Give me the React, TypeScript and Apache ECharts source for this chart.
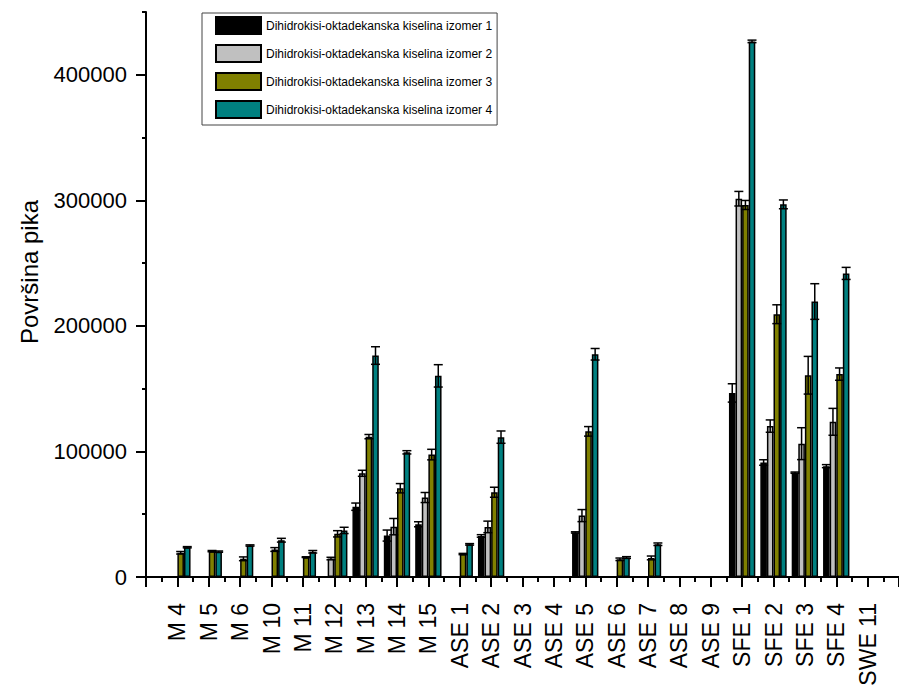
import React, { useEffect, useRef } from 'react';
import * as echarts from 'echarts';

const categories = ['M 4', 'M 5', 'M 6', 'M 10', 'M 11', 'M 12', 'M 13', 'M 14', 'M 15', 'ASE 1', 'ASE 2', 'ASE 3', 'ASE 4', 'ASE 5', 'ASE 6', 'ASE 7', 'ASE 8', 'ASE 9', 'SFE 1', 'SFE 2', 'SFE 3', 'SFE 4', 'SWE 11'];

const seriesNames = [
  'Dihidrokisi-oktadekanska kiselina izomer 1',
  'Dihidrokisi-oktadekanska kiselina izomer 2',
  'Dihidrokisi-oktadekanska kiselina izomer 3',
  'Dihidrokisi-oktadekanska kiselina izomer 4',
];

const izomer1 = [null, null, null, null, null, null, 56000, 33000, 42000, null, 32700, null, null, 35500, null, null, null, null, 146600, 91200, 83100, 88300, null];
const izomer2 = [null, null, null, null, null, 14700, 82600, 40100, 63300, null, 39900, null, null, 48900, null, null, null, null, 301300, 120200, 106200, 123600, null];
const izomer3 = [19300, 20600, 14500, 21900, 15800, 34400, 111800, 70700, 97500, 18300, 67500, null, null, 116000, 14100, 15200, null, null, 296300, 209300, 160700, 161600, null];
const izomer4 = [23700, 20200, 25100, 29300, 20100, 37100, 176400, 99300, 160200, 26000, 111400, null, null, 177400, 15500, 26100, null, null, 426600, 296800, 219400, 241800, null];

const err1 = [0, 0, 0, 0, 0, 0, 2900, 4400, 2000, 0, 1000, 0, 0, 500, 0, 0, 0, 0, 7300, 2200, 500, 1200, 0];
const err2 = [0, 0, 0, 0, 0, 1000, 2400, 6500, 4000, 0, 4600, 0, 0, 4800, 0, 0, 0, 0, 5800, 4900, 12700, 10700, 0];
const err3 = [1000, 500, 1500, 1500, 300, 2500, 1700, 3700, 4200, 500, 4000, 0, 0, 3800, 1000, 1500, 0, 0, 3600, 7500, 15000, 4900, 0];
const err4 = [500, 500, 500, 1500, 1000, 2500, 7000, 1300, 8900, 600, 4900, 0, 0, 4600, 700, 1000, 0, 0, 1000, 3500, 14200, 4800, 0];

const yAxisTitle = 'Površina pika';

const colors = ['#000000', '#c0c0c0', '#808000', '#008080'];
const FONT = 'Liberation Sans, Arial, sans-serif';
const CAT_GAP = 0.16;

export default function App() {
  const ref = useRef<HTMLDivElement>(null);

  useEffect(() => {
    if (!ref.current) return;
    const chart = echarts.init(ref.current, null, { renderer: 'svg' });
    const axisCats = ['', ...categories, ''];
    const pad = (a: (number | null)[]) => [null, ...a, null];
    const values = [izomer1, izomer2, izomer3, izomer4];
    const errors = [err1, err2, err3, err4];

    const barSeries = values.map((v, i) => ({
      type: 'bar',
      name: seriesNames[i],
      data: pad(v),
      xAxisIndex: 0,
      yAxisIndex: 0,
      barGap: '0%',
      barCategoryGap: `${CAT_GAP * 100}%`,
      itemStyle: { color: colors[i], borderColor: '#000', borderWidth: 1.5 },
      z: 2,
    }));

    const errSeries = values.map((v, i) => ({
      type: 'custom',
      name: 'err' + i,
      xAxisIndex: 0,
      yAxisIndex: 0,
      z: 5,
      silent: true,
      encode: { x: 0, y: 1 },
      data: v
        .map((val, j) => (val == null ? null : [j + 1, val, errors[i][j]]))
        .filter((d) => d !== null),
      renderItem: (params: any, api: any) => {
        const idx = api.value(0);
        const val = api.value(1);
        const e = api.value(2);
        const c = api.coord([idx, val]);
        const band = api.size([1, 0])[0];
        const bw = (band * (1 - CAT_GAP)) / 4;
        const x = c[0] + (i - 1.5) * bw;
        const top = api.coord([idx, val + e])[1];
        const bot = api.coord([idx, val - e])[1];
        const hw = 4.5;
        const style = { stroke: '#000', lineWidth: 1.5 };
        return {
          type: 'group',
          children: [
            { type: 'line', shape: { x1: x, y1: top, x2: x, y2: bot }, style },
            { type: 'line', shape: { x1: x - hw, y1: top, x2: x + hw, y2: top }, style },
            { type: 'line', shape: { x1: x - hw, y1: bot, x2: x + hw, y2: bot }, style },
          ],
        };
      },
    }));

    chart.setOption({
      animation: false,
      backgroundColor: '#ffffff',
      grid: { left: 146, top: 12, bottom: 121, right: -7, containLabel: false },
      legend: {
        orient: 'vertical',
        left: 202,
        top: 13,
        data: seriesNames,
        icon: 'rect',
        itemWidth: 45,
        itemHeight: 17,
        itemGap: 9,
        padding: [3, 5, 6, 13],
        borderColor: '#444',
        borderWidth: 1,
        selectedMode: false,
        textStyle: { fontFamily: FONT, fontSize: 12, color: '#000' },
      },
      graphic: [
        {
          type: 'text',
          x: 29,
          y: 272,
          rotation: Math.PI / 2,
          style: {
            text: yAxisTitle,
            fontSize: 24,
            fontFamily: FONT,
            fill: '#000',
            textAlign: 'center',
            textVerticalAlign: 'middle',
          },
        },
      ],
      xAxis: [
        {
          type: 'category',
          data: axisCats,
          boundaryGap: false,
          position: 'bottom',
          axisLine: { show: true, lineStyle: { color: '#000', width: 2 } },
          axisTick: { show: true, interval: 0, length: 10, lineStyle: { color: '#000', width: 2 } },
          axisLabel: { interval: 0, rotate: 90, fontSize: 23, fontFamily: FONT, color: '#000', margin: 26 },
          splitLine: { show: false },
        },
        {
          type: 'value',
          min: 0,
          max: 24,
          interval: 0.5,
          position: 'bottom',
          axisLine: { show: false },
          axisTick: { show: true, length: 5, lineStyle: { color: '#000', width: 2 } },
          axisLabel: { show: false },
          splitLine: { show: false },
        },
      ],
      yAxis: [
        {
          type: 'value',
          min: 0,
          max: 450000,
          interval: 100000,
          position: 'left',
          axisLine: { show: true, lineStyle: { color: '#000', width: 2 } },
          axisTick: { show: true, length: 10, lineStyle: { color: '#000', width: 2 } },
          axisLabel: {
            showMaxLabel: false,
            fontSize: 22,
            fontFamily: FONT,
            color: '#000',
            margin: 19,
            formatter: (v: number) => String(v),
          },
          splitLine: { show: false },
        },
        {
          type: 'value',
          min: 0,
          max: 450000,
          interval: 50000,
          position: 'left',
          axisLine: { show: false },
          axisTick: { show: true, length: 4, lineStyle: { color: '#000', width: 2 } },
          axisLabel: { show: false },
          splitLine: { show: false },
        },
      ],
      series: [...barSeries, ...errSeries],
    });

    return () => chart.dispose();
  }, []);

  return <div ref={ref} style={{ position: 'absolute', left: 0, top: 0, width: 899, height: 698, background: '#fff' }} />;
}
